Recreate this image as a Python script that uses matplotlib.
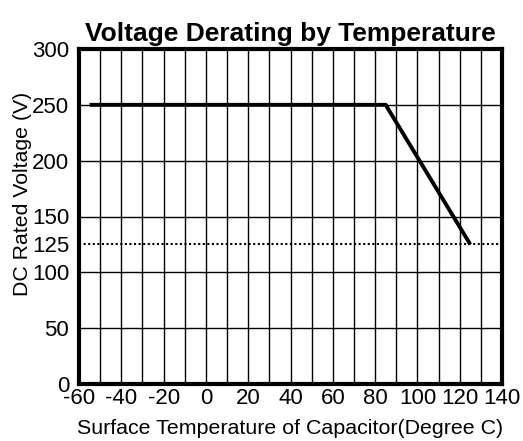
import matplotlib
matplotlib.use("Agg")
import matplotlib.pyplot as plt

# derating curve (temperature in C, voltage in V)
temps = [-55, 85, 125]
volts = [250, 250, 125]

# dotted reference level
ref_volt = 125

xticks = [-60, -40, -20, 0, 20, 40, 60, 80, 100, 120, 140]
yticks = [0, 50, 100, 125, 150, 200, 250, 300]
ygrid = [50, 100, 150, 200, 250]

plt.rcParams['font.family'] = ['Liberation Sans', 'DejaVu Sans']
plt.rcParams['axes.unicode_minus'] = False

fig = plt.figure(figsize=(5.23, 4.41), dpi=100)
ax = fig.add_axes([79/523, 1 - 384/441, 423/523, 335/441])

# grid: every 10 degrees, every 50 volts
for gx in range(-50, 140, 10):
    ax.axvline(gx, color='black', lw=1.0, zorder=1)
for gy in ygrid:
    ax.axhline(gy, color='black', lw=1.0, zorder=1)

ax.plot(temps, volts, color='black', lw=2.8, solid_capstyle='butt', zorder=3)
ax.axhline(ref_volt, color='black', lw=1.5, ls=(0, (1, 1.2)), zorder=2)

ax.set_xlim(-60, 140)
ax.set_ylim(0, 300)
ax.set_xticks(xticks)
ax.set_yticks(yticks)
ax.tick_params(length=0, labelsize=16)
ax.tick_params(axis='x', pad=3)
ax.tick_params(axis='y', pad=7)

for s in ax.spines.values():
    s.set_linewidth(3)

ax.set_title('Voltage Derating by Temperature', fontsize=19, fontweight='bold', pad=6)
ax.set_xlabel('Surface Temperature of Capacitor(Degree C)', fontsize=15.4, labelpad=7)
fig.text(23/523, 1 - 194/441, 'DC Rated Voltage (V)', fontsize=15.3,
         rotation=90, ha='center', va='center')

plt.savefig('out.png', dpi=100)
